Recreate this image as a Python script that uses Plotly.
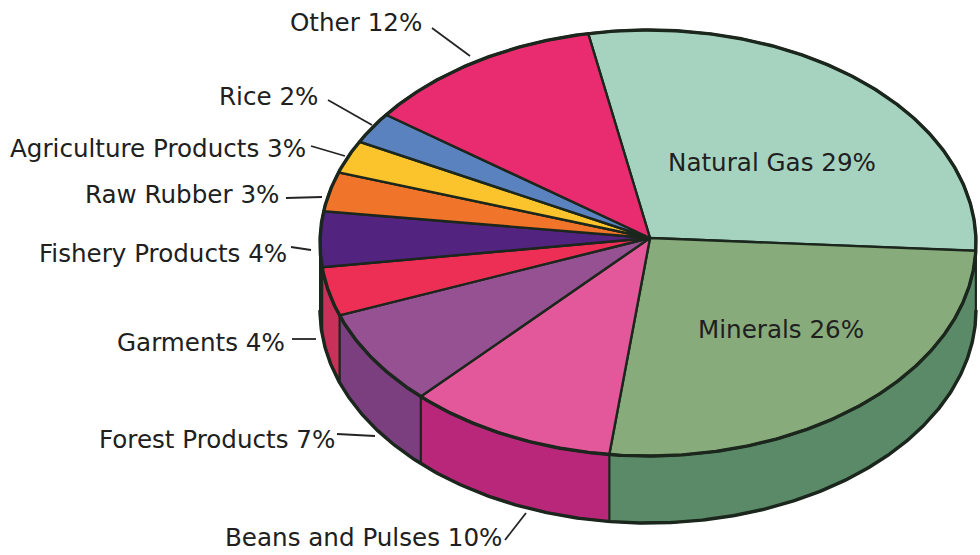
import numpy as np
import plotly.graph_objects as go

# Data: shares as drawn (sum to 100), label text, colours
categories = ["Natural Gas", "Minerals", "Beans and Pulses", "Forest Products", "Garments",
              "Fishery Products", "Raw Rubber", "Agriculture Products", "Rice", "Other"]
values = [28.5, 26.3, 10.3, 7.3, 3.7, 4.2, 3.0, 2.5, 2.4, 11.8]
labels = ["Natural Gas 29%", "Minerals 26%", "Beans and Pulses 10%", "Forest Products 7%", "Garments 4%",
          "Fishery Products 4%", "Raw Rubber 3%", "Agriculture Products 3%", "Rice 2%", "Other 12%"]
top_colors = ["#a6d3c0", "#88ab7c", "#e2589a", "#955191", "#ee2f55",
              "#52237f", "#f0752a", "#fcc42c", "#5a82be", "#e92c6f"]
side_colors = ["#a6d3c0", "#5a8a68", "#b8277a", "#7b3f80", "#c9305a",
               "#3a1a5c", "#f0752a", "#fcc42c", "#5a82be", "#e92c6f"]

# Layout positions (canvas pixels)
label_pos = [(772, 162, "center"), (781, 329, "center"), (504, 537, "right"), (337, 439, "right"),
             (287, 342, "right"), (289, 253, "right"), (281, 194, "right"), (308, 148, "right"),
             (320, 96, "right"), (424, 22, "right")]
leaders = [None, None, (505, 540, 526, 513), (337, 434, 375, 436), (292, 339, 316, 339),
           (291, 247, 311, 250), (286, 198, 322, 197), (311, 146, 345, 156),
           (328, 100, 372, 125), (432, 28, 470, 56)]
CX, CY, RX, RY = 648, 243, 328, 213
AX, AY = 650, 238
DEPTH = 67
START = -10.5
INK = "#1b261c"


def arc(a0, a1, dy=0):
    t = np.radians(np.linspace(a0, a1, max(int(abs(a1 - a0)) * 2, 2) + 1))
    return CX + RX * np.sin(t), CY - RY * np.cos(t) + dy


fig = go.Figure()
edges = START + np.concatenate([[0], np.cumsum(values)]) * 3.6

# Side walls first
for i in range(len(values)):
    a0, a1 = max(edges[i], 90), min(edges[i + 1], 270)
    if a1 <= a0:
        continue
    x0, y0 = arc(a0, a1)
    x1, y1 = arc(a1, a0, DEPTH)
    fig.add_trace(go.Scatter(x=np.r_[x0, x1, x0[0]], y=np.r_[y0, y1, y0[0]], mode="lines",
                             fill="toself", fillcolor=side_colors[i],
                             line=dict(color=INK, width=2), hoverinfo="skip", showlegend=False))

# Top wedges
for i in range(len(values)):
    x0, y0 = arc(edges[i], edges[i + 1])
    fig.add_trace(go.Scatter(x=np.r_[AX, x0, AX], y=np.r_[AY, y0, AY], mode="lines",
                             fill="toself", fillcolor=top_colors[i], name=categories[i],
                             line=dict(color=INK, width=2.4), hoverinfo="skip", showlegend=False))

# Heavy outer rims
for a0, a1, dy in [(0, 360, 0), (90, 270, DEPTH)]:
    x0, y0 = arc(a0, a1, dy)
    fig.add_trace(go.Scatter(x=x0, y=y0, mode="lines", line=dict(color=INK, width=3.4),
                             hoverinfo="skip", showlegend=False))

for text, (x, y, anchor) in zip(labels, label_pos):
    fig.add_annotation(x=x, y=y, text=text, showarrow=False, xanchor=anchor, yanchor="middle",
                       font=dict(family="DejaVu Sans", size=24.6, color="#202020"))

shapes = [dict(type="line", xref="x", yref="y", x0=l[0], y0=l[1], x1=l[2], y1=l[3],
               line=dict(color="#242424", width=1.8)) for l in leaders if l]

fig.update_layout(width=980, height=555, margin=dict(l=0, r=0, t=0, b=0),
                  paper_bgcolor="white", plot_bgcolor="white", shapes=shapes,
                  xaxis=dict(range=[0, 980], visible=False),
                  yaxis=dict(range=[555, 0], visible=False))
fig.write_html("out.html", config={"displayModeBar": False},
               post_script="document.body.style.margin='0';document.body.style.overflow='hidden';")
